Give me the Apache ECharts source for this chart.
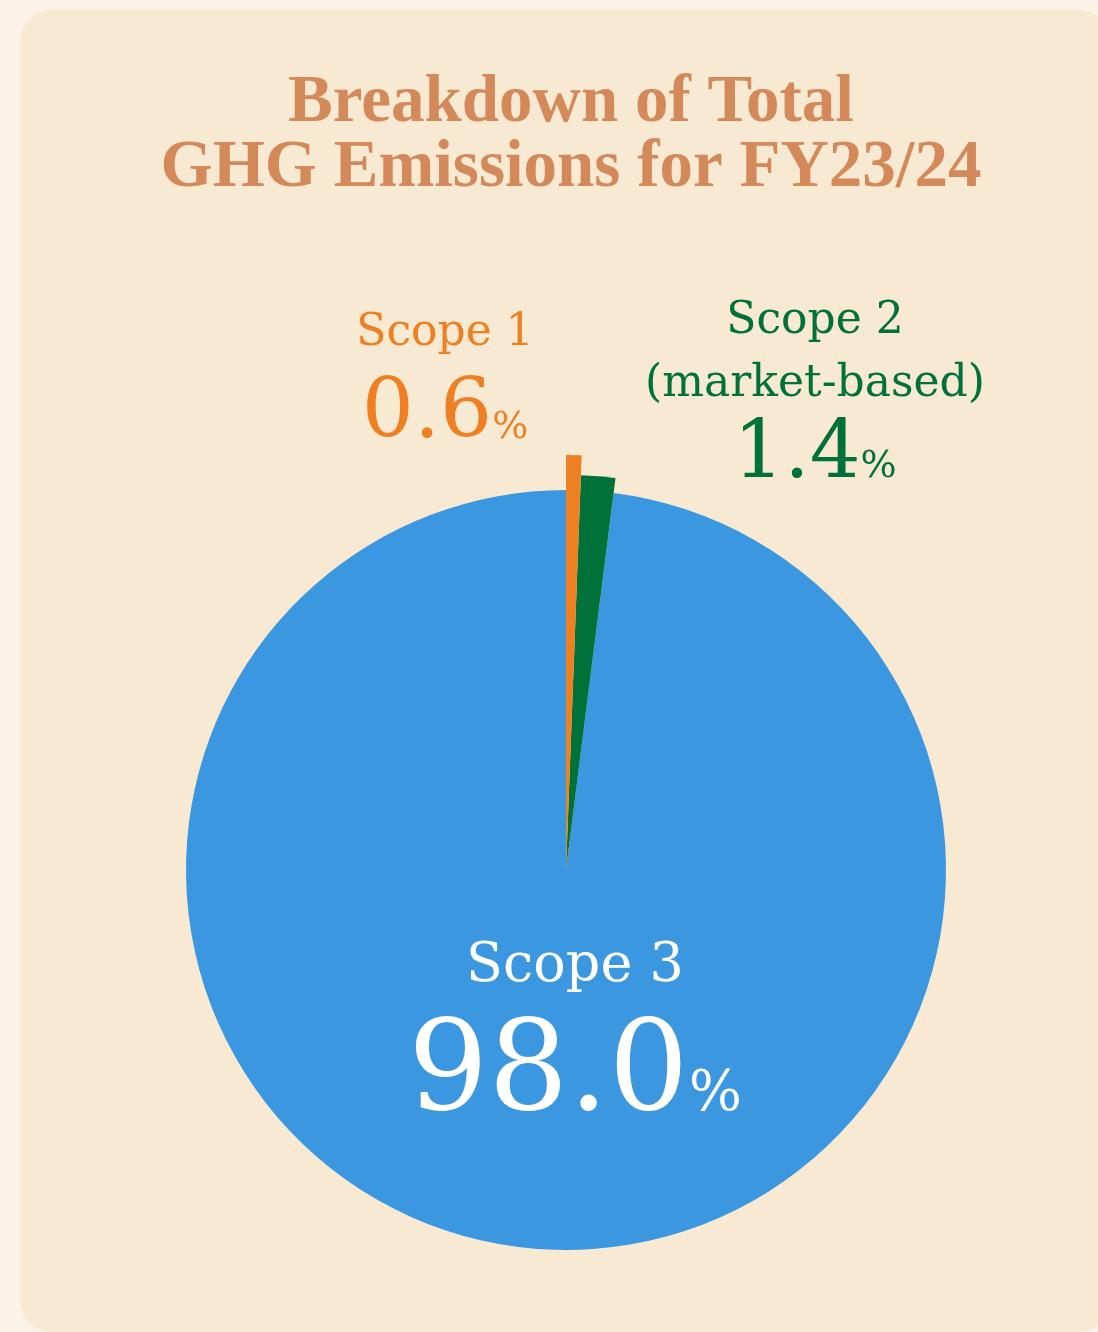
<!DOCTYPE html>
<html>
<head>
<meta charset="utf-8">
<script src="https://cdn.jsdelivr.net/npm/echarts@6/dist/echarts.min.js"></script>
<style>
  html, body { margin: 0; padding: 0; background: #fbf3e7; }
  .panel {
    position: absolute; left: 20px; top: 10px; width: 1090px; height: 1322px;
    background: #f8ead2; border-radius: 32px;
  }
  #chart { position: absolute; left: 0; top: 0; width: 1098px; height: 1332px; }
</style>
</head>
<body>
<div class="panel"></div>
<div id="chart"></div>
<script>
// data
const categories = ['Scope 1', 'Scope 2\n(market-based)', 'Scope 3']
const shares = [0.6, 1.4, 98.0]

// look
const sliceColors = ['#ee7f22', '#007139', '#3b97df']
const textColors = ['#ee7f22', '#007139', '#ffffff']
const sliceRadius = [415, 395, 380] // small slices stick out past the big one
const labelSpots = [
  { x: 445, y: 302 },
  { x: 815, y: 290 },
  { x: 575, y: 932 },
]
// name size, name line height, number size, number line height, % size, % lift
const labelSizes = [
  [44, 63, 82, 92, 38, 10],
  [44, 63, 80, 80, 38, 10],
  [54, 70, 126, 137, 56, 16],
]

let chart = echarts.init(document.getElementById('chart'))

function richFor(i) {
  const s = labelSizes[i]
  const c = textColors[i]
  return {
    name: { color: c, fontFamily: 'DejaVu Serif', fontSize: s[0], lineHeight: s[1] },
    num: { color: c, fontFamily: 'DejaVu Serif', fontSize: s[2], lineHeight: s[3], verticalAlign: 'bottom' },
    pct: { color: c, fontFamily: 'DejaVu Serif', fontSize: s[4], verticalAlign: 'bottom', padding: [0, 0, s[5], 0] },
  }
}

// one layer per slice so each slice can have its own radius
let series = [2, 1, 0].map((i) => ({
  type: 'pie',
  center: [566, 870],
  radius: [0, sliceRadius[i]],
  startAngle: 90,
  clockwise: true,
  silent: true,
  animation: false,
  labelLine: { show: false },
  data: categories.map((name, j) => ({
    name: name,
    value: shares[j],
    itemStyle: { color: j === i ? sliceColors[j] : 'rgba(0,0,0,0)' },
    label: { show: j === i },
  })),
  label: {
    position: 'outside',
    align: 'center',
    formatter: (p) =>
      p.name.split('\n').map((s) => `{name|${s}}`).join('\n') +
      `\n{num|${p.value.toFixed(1)}}{pct|%}`,
    rich: richFor(i),
  },
  labelLayout: (p) => ({
    x: labelSpots[p.dataIndex].x,
    y: labelSpots[p.dataIndex].y,
    align: 'center',
    verticalAlign: 'top',
  }),
}))

chart.setOption({
  backgroundColor: 'transparent',
  title: {
    text: 'Breakdown of Total\nGHG Emissions for FY23/24',
    left: 566,
    top: 66,
    textAlign: 'center',
    textStyle: {
      color: '#d4895a',
      fontFamily: 'Liberation Serif',
      fontWeight: 'bold',
      fontSize: 67,
      lineHeight: 65,
    },
  },
  series: series,
})
</script>
</body>
</html>
